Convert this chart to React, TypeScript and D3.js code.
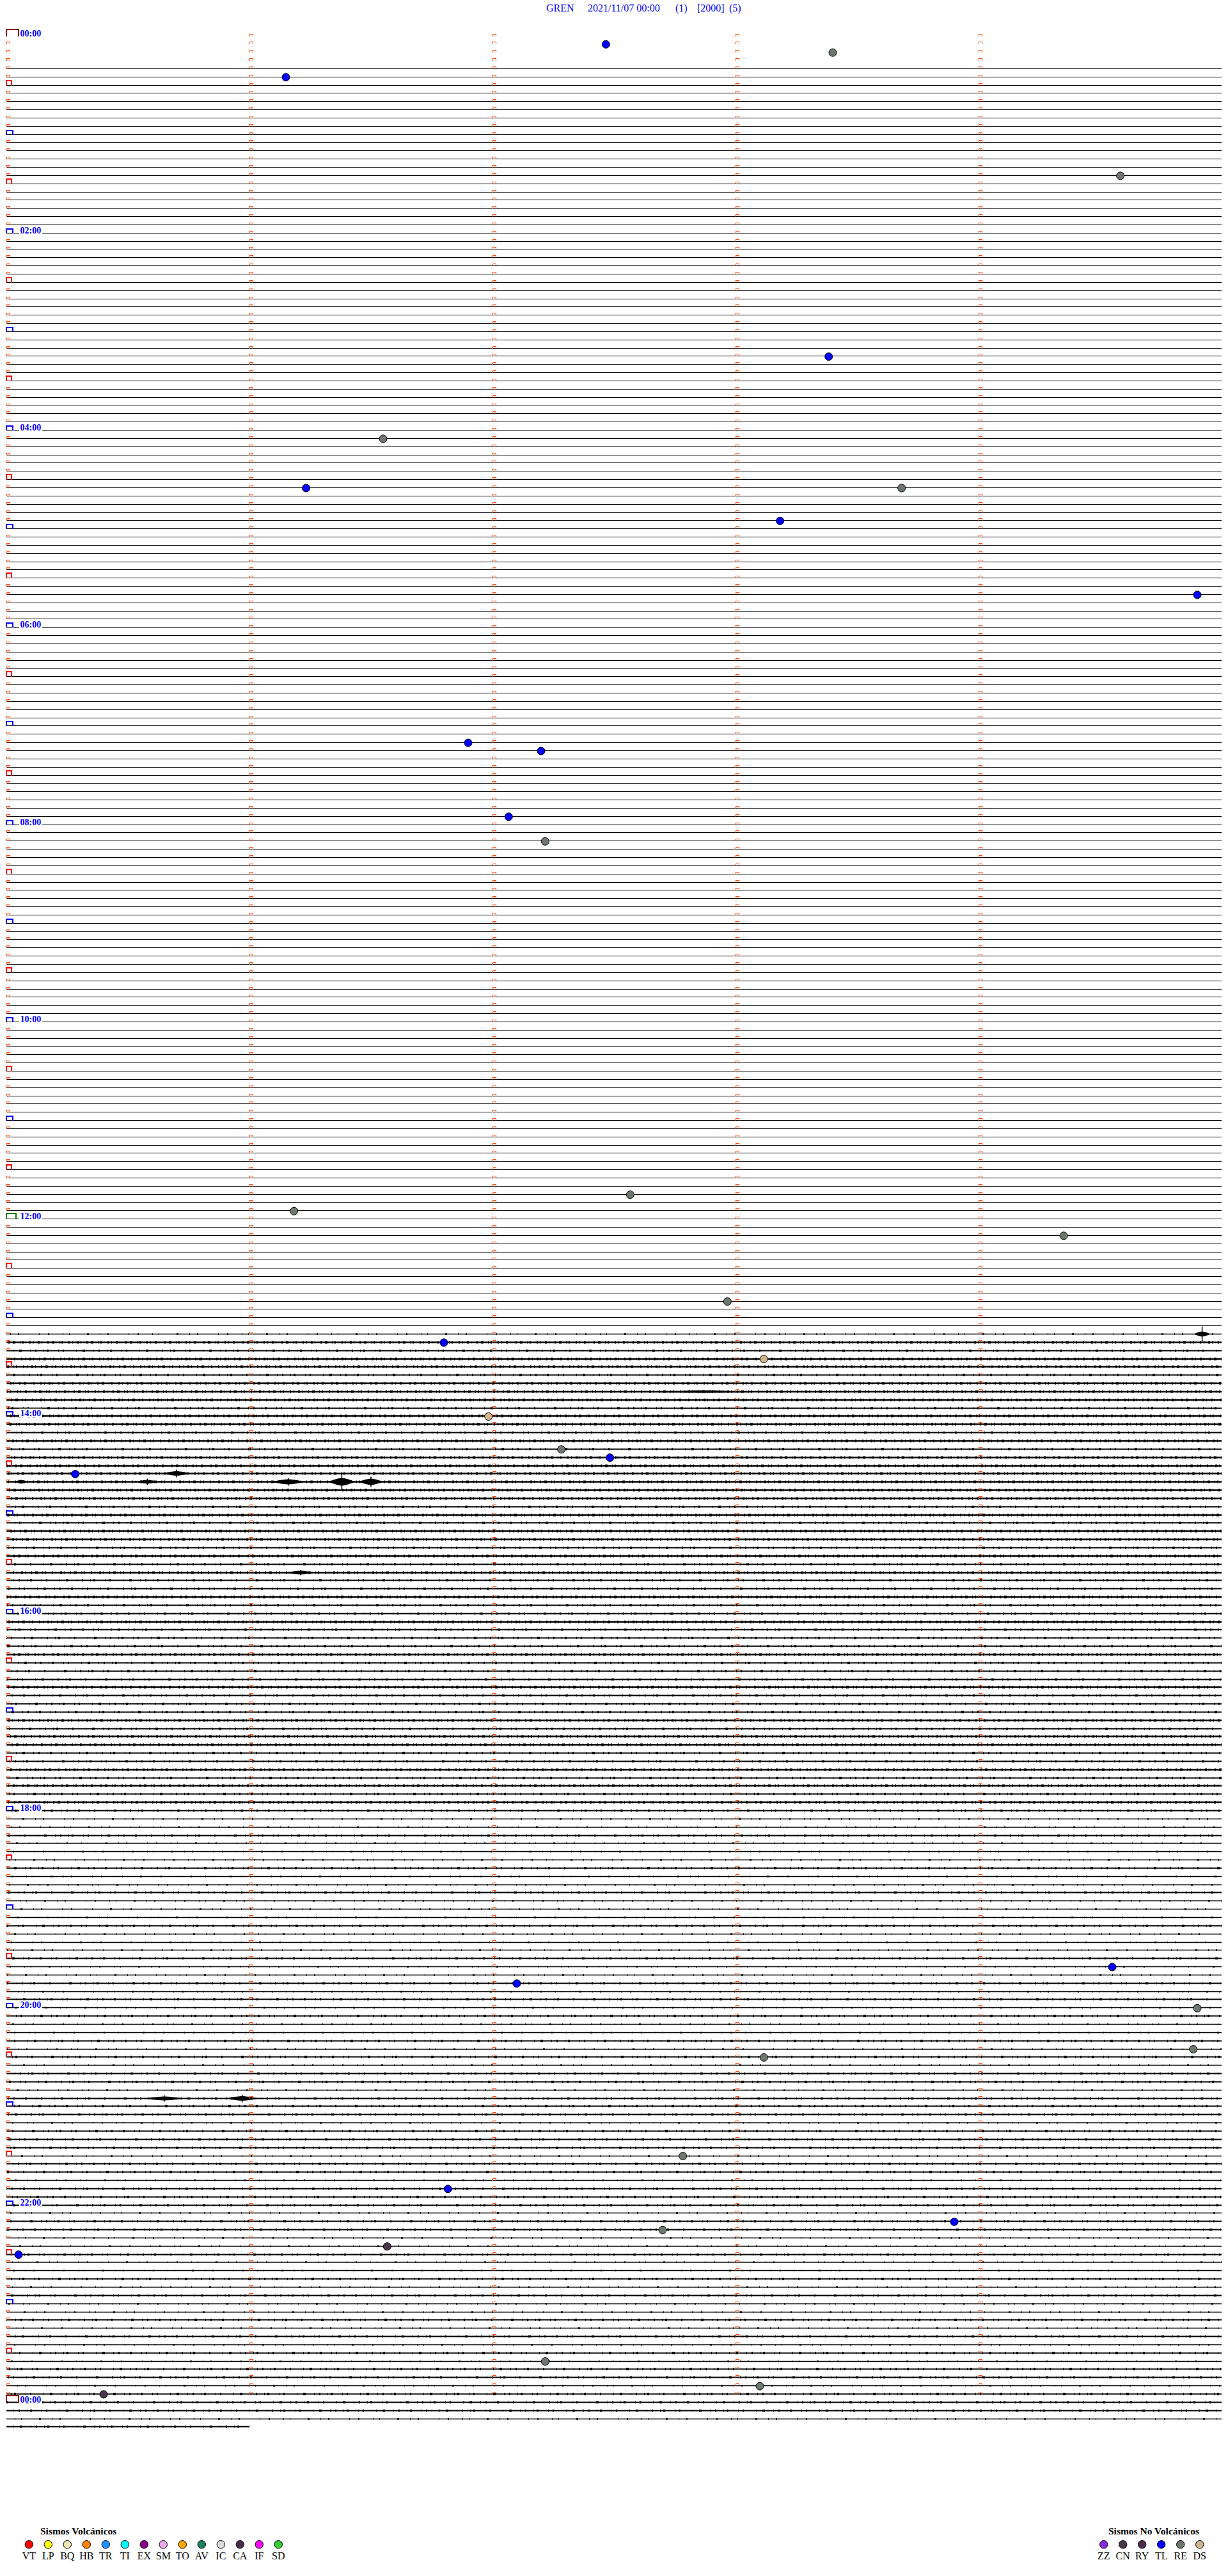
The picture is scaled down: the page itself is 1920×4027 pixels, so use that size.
import React, { useEffect } from "react";
import * as d3 from "d3";

// header
const station = "GREN";
const startStamp = "2021/11/07 00:00";
const headerTags = ["(1)", "[2000]", "(5)"];

// helicorder: 5 minutes per row, 12 rows per hour
const rowMinutes = 5;
const rowsPerDay = 288;
const markerRows = 288; // rows carrying the minute ticks
const dataStartMin = 20;
const dataEndMin = 1456;

const hourLabels = [
  "00:00", "02:00", "04:00", "06:00", "08:00", "10:00", "12:00",
  "14:00", "16:00", "18:00", "20:00", "22:00", "00:00",
];

// noise level of each trace row from row 155 on (0 quiet .. 3 strong)
const noiseFrom = 155;
const noiseLevels =
  "000" + "1" +
  "32332333233232333" +
  "333232332323" +
  "2232232223222322" +
  "2323322323232" +
  "11211121121112111211" +
  "212121121212212" +
  "22122212212221221" +
  "121121211212121" +
  "22122212";

// larger wave trains: row, minute inside row, half length (min), envelope (px), peak (px)
const burstRows = [158, 165, 175, 176, 176, 176, 176, 176, 187, 251, 251];
const burstMinutes = [4.92, 2.87, 0.7, 0.06, 0.58, 1.16, 1.38, 1.5, 1.21, 0.65, 0.97];
const burstHalf = [0.03, 0.2, 0.05, 0.02, 0.04, 0.06, 0.05, 0.045, 0.05, 0.07, 0.06];
const burstAmp = [4, 2, 3.5, 3, 3, 4, 6, 5, 3, 3, 3.5];
const burstPeak = [12, 0, 6, 0, 5, 6, 12, 8, 4, 5, 6];

// classified events
const eventTimes = [
  "00:07:28", "00:13:24", "00:26:09", "01:29:35", "03:18:23", "04:06:33",
  "04:36:14", "04:38:41", "04:58:11", "05:44:54", "07:11:54", "07:17:12",
  "07:57:04", "08:12:13", "11:47:34", "11:56:11", "12:14:21", "12:52:58",
  "13:16:48", "13:28:07", "14:01:59", "14:22:17", "14:27:29", "14:35:17",
  "19:39:33", "19:47:06", "20:04:54", "20:29:53", "20:33:07", "21:32:47",
  "21:51:49", "22:13:54", "22:17:42", "22:26:34", "22:30:03", "23:37:13",
  "23:53:06", "23:55:24",
];
const eventTypes = [
  "TL", "RE", "TL", "RE", "TL", "RE", "TL", "RE", "TL", "TL", "TL", "TL",
  "TL", "RE", "RE", "RE", "RE", "RE", "TL", "DS", "DS", "RE", "TL", "TL",
  "TL", "TL", "RE", "RE", "RE", "RE", "TL", "TL", "RE", "CN", "TL", "RE",
  "RE", "CN",
];

// legend
const volcanicCodes = ["VT", "LP", "BQ", "HB", "TR", "TI", "EX", "SM", "TO", "AV", "IC", "CA", "IF", "SD"];
const volcanicColors = [
  "#FF0000", "#FFFF00", "#F2E6B0", "#FF8000", "#1E90FF", "#00FFFF", "#8B008B",
  "#EEAAEE", "#FFA500", "#1E7F60", "#DCDCDC", "#4B2D4B", "#FF00FF", "#32CD32",
];
const otherCodes = ["ZZ", "CN", "RY", "TL", "RE", "DS"];
const otherColors = ["#8A2BE2", "#4B354B", "#4B2D4B", "#0000FF", "#6E776E", "#D2B48C"];

const W = 1920;
const H = 4027;
const SERIF = "'Liberation Serif', 'Times New Roman', serif";

const toMinutes = (s: string) => {
  const [h, m, sec] = s.split(":").map(Number);
  return h * 60 + m + sec / 60;
};

// stroke styles for the noisy traces
const texture = [
  "",
  "1 13 2 21 1 9 1 27 3 17 1 11 2 31",
  "1 7 2 11 1 4 3 15 1 6 2 19 1 9 4 13",
  "2 4 1 6 3 3 1 8 2 5 4 7 1 3 2 9",
];
const baseWidth = [1.1, 1.4, 1.8, 2.3];
const tickWidth = [0, 2.6, 3.4, 4.2];

export default function App() {
  useEffect(() => {
    document.body.style.margin = "0";
  }, []);

  const x = d3.scaleLinear().domain([0, rowMinutes]).range([10, 1910]);
  const y = d3.scaleLinear().domain([0, rowsPerDay]).range([55.5, 55.5 + rowsPerDay * 12.845]);
  const colorOf = d3
    .scaleOrdinal<string, string>()
    .domain([...volcanicCodes, ...otherCodes])
    .range([...volcanicColors, ...otherColors]);

  const firstRow = Math.floor(dataStartMin / rowMinutes);
  const lastRow = Math.floor(dataEndMin / rowMinutes);
  const traceRows = d3.range(firstRow, lastRow + 1);

  const levelOf = (r: number) =>
    r < noiseFrom ? 0 : +(noiseLevels[r - noiseFrom] ?? "1");

  const spindle = d3
    .area<[number, number]>()
    .x((d) => d[0])
    .y0((d) => -d[1])
    .y1((d) => d[1])
    .curve(d3.curveCatmullRom);

  const minuteTicks = d3.range(0, rowMinutes);

  const bracket = (x0: number, x1: number, yy: number, h: number) =>
    `M${x0},${yy + 1}V${yy - h}H${x1}V${yy + 1}`;

  return (
    <svg width={W} height={H} style={{ display: "block", background: "#fff" }}>
      <rect width={W} height={H} fill="#fff" />

      {/* header */}
      <g fontFamily={SERIF} fontSize={16} fill="#0000FF">
        <text x={854} y={17.5}>{station}</text>
        <text x={919} y={17.5}>{startStamp}</text>
        <text x={1056} y={17.5}>{headerTags[0]}</text>
        <text x={1090} y={17.5}>{headerTags[1]}</text>
        <text x={1140} y={17.5}>{headerTags[2]}</text>
      </g>

      {/* traces */}
      <g>
        {traceRows.map((r) => {
          const yy = Math.round(y(r)) + 0.5;
          const t0 = Math.max(0, dataStartMin - r * rowMinutes);
          const t1 = Math.min(rowMinutes, dataEndMin - r * rowMinutes);
          const lv = levelOf(r);
          return (
            <g key={r}>
              <line x1={x(t0)} x2={x(t1)} y1={yy} y2={yy} stroke="#000" strokeWidth={baseWidth[lv]} />
              {lv > 0 && (
                <line
                  x1={x(t0)}
                  x2={x(t1)}
                  y1={yy}
                  y2={yy}
                  stroke="#000"
                  strokeWidth={tickWidth[lv]}
                  strokeDasharray={texture[lv]}
                  strokeDashoffset={(r * 37) % 101}
                />
              )}
            </g>
          );
        })}
        {burstRows.map((r, i) => {
          const t = burstMinutes[i];
          const hw = burstHalf[i];
          const yy = Math.round(y(r)) + 0.5;
          const pts: [number, number][] = [
            [x(t - hw), 0.8],
            [x(t), burstAmp[i]],
            [x(t + hw), 0.8],
          ];
          return (
            <g key={i}>
              <path transform={`translate(0,${yy})`} d={spindle(pts) ?? ""} fill="#000" />
              {burstPeak[i] > 0 && (
                <line
                  x1={x(t)}
                  x2={x(t)}
                  y1={yy - burstPeak[i]}
                  y2={yy + burstPeak[i]}
                  stroke="#000"
                  strokeWidth={1.5}
                />
              )}
            </g>
          );
        })}
      </g>

      {/* minute ticks and hour brackets */}
      <g fill="none" shapeRendering="crispEdges">
        {d3.range(0, markerRows + 1).map((r) => {
          const yy = Math.round(y(r));
          const onHour = r % 12 === 0;
          const onHalf = r % 12 === 6;
          const items = [];
          minuteTicks.forEach((k) => {
            if (k === 0 && (onHour || onHalf)) return;
            if (r === markerRows) return;
            const xx = Math.round(x(k));
            items.push(
              <path key={`m${k}`} d={bracket(xx, xx + 5, yy, 3)} stroke="#FF4500" strokeWidth={1} />
            );
          });
          if (onHalf) {
            items.push(<path key="h" d={bracket(10, 18, yy, 7)} stroke="#FF0000" strokeWidth={1.2} />);
          }
          if (onHour) {
            const dayEdge = r % rowsPerDay === 0;
            const noon = r === rowsPerDay / 2;
            if (dayEdge) {
              items.push(<path key="b" d={bracket(10, 29, yy, 10)} stroke="#8B0000" strokeWidth={2} />);
            } else if (noon) {
              items.push(<path key="b" d={bracket(10, 25, yy, 8)} stroke="#008000" strokeWidth={2} />);
            } else {
              items.push(<path key="b" d={bracket(10, 20, yy, 6)} stroke="#0000FF" strokeWidth={2} />);
            }
          }
          return <g key={r}>{items}</g>;
        })}
      </g>

      {/* hour labels */}
      <g fontFamily={SERIF} fontSize={14} fontWeight="bold" fill="#0000FF">
        {hourLabels.map((lab, i) => {
          const r = i * 24;
          const yy = Math.round(y(r));
          return (
            <g key={i}>
              <rect x={30} y={yy - 11} width={36} height={13} fill="#fff" />
              <text x={31.5} y={yy + 1}>{lab}</text>
            </g>
          );
        })}
      </g>

      {/* events */}
      <g stroke="#000" strokeWidth={1}>
        {eventTimes.map((s, i) => {
          const m = toMinutes(s);
          const r = Math.floor(m / rowMinutes);
          return (
            <circle
              key={i}
              cx={x(m - r * rowMinutes)}
              cy={y(r) + 1}
              r={6}
              fill={colorOf(eventTypes[i])}
            />
          );
        })}
      </g>

      {/* legend */}
      <g fontFamily={SERIF} fill="#000">
        <text x={63} y={3962} fontSize={15.5} fontWeight="bold">Sismos Volcánicos</text>
        {volcanicCodes.map((c, i) => {
          const cx = 45.3 + i * 30;
          return (
            <g key={c}>
              <circle cx={cx} cy={3977.7} r={6.2} fill={colorOf(c)} stroke="#000" strokeWidth={1} />
              <text x={cx} y={4001} fontSize={16} textAnchor="middle">{c}</text>
            </g>
          );
        })}
        <text x={1733} y={3962} fontSize={15.5} fontWeight="bold">Sismos No Volcánicos</text>
        {otherCodes.map((c, i) => {
          const cx = 1725.7 + i * 30;
          return (
            <g key={c}>
              <circle cx={cx} cy={3977.7} r={6.2} fill={colorOf(c)} stroke="#000" strokeWidth={1} />
              <text x={cx} y={4001} fontSize={16} textAnchor="middle">{c}</text>
            </g>
          );
        })}
      </g>
    </svg>
  );
}
